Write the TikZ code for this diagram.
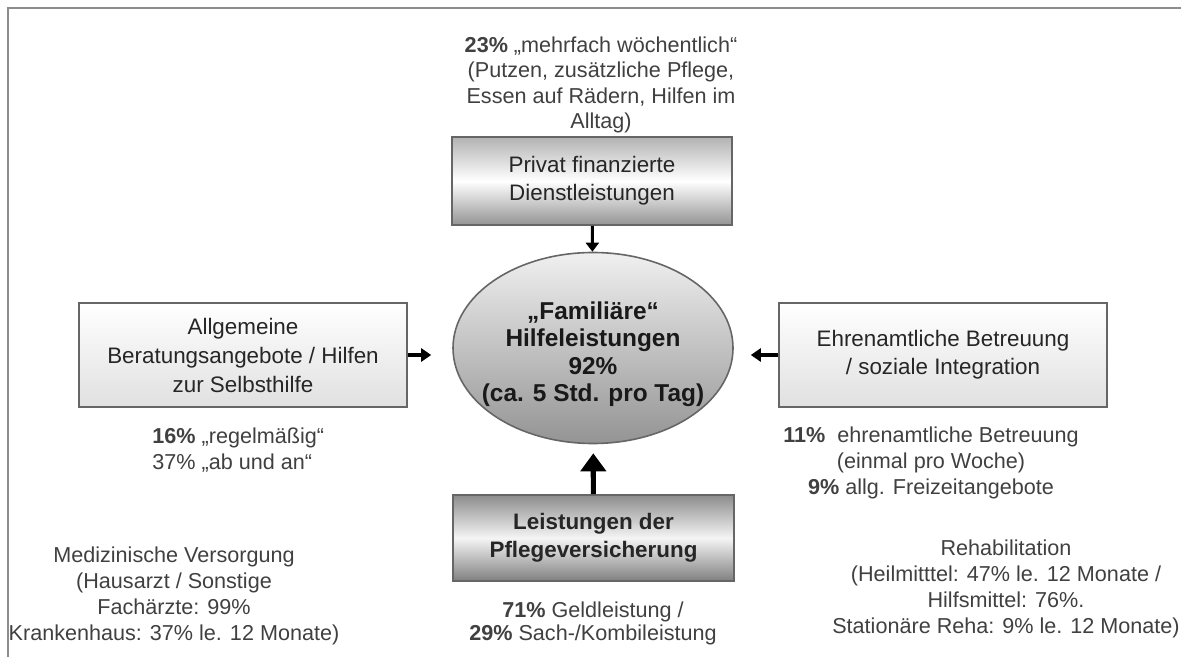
\documentclass[tikz,border=0pt]{standalone}
\usepackage{fontspec}
\setmainfont{Liberation Sans}
\usetikzlibrary{shapes.geometric,arrows.meta}

\begin{document}
\begin{tikzpicture}[x=0.5pt,y=-0.5pt]
\tikzstyle{every node}+=[inner sep=0pt]
\tikzstyle{box}=[draw=black!60, line width=0.8pt, align=center, text=black!85, font=\fontsize{11.2}{14}\selectfont]
\tikzstyle{note}=[align=center, text=black!75, font=\fontsize{10.8}{13}\selectfont]
\useasboundingbox (0,0) rectangle (1181,657);
\draw [black!45, line width=1.2pt] (8,657) -- (8,8) -- (1181,8);
% boxes
\node [box, top color=black!30, bottom color=black!42, middle color=white, minimum width=140pt, minimum height=44pt] (privat) at (592,181) {Privat finanzierte\\Dienstleistungen};
\node [ellipse, draw=black!60, line width=0.8pt, top color=black!6, bottom color=black!42, minimum width=140pt, minimum height=95.5pt] (familie) at (593,348) {};
\node [align=center, text=black!90, font=\bfseries\fontsize{12.2}{13.75}\selectfont] (familietext) at (593,354) {„Familiäre“\\Hilfeleistungen\\92\%\\(ca. 5 Std. pro Tag)};
\node [box, top color=white, bottom color=black!12, minimum width=164pt, minimum height=52pt, font=\fontsize{11.2}{14.5}\selectfont] (beratung) at (243,355) {Allgemeine\\Beratungsangebote / Hilfen\\zur Selbsthilfe};
\node [box, top color=white, bottom color=black!12, minimum width=164pt, minimum height=52pt] (ehrenamt) at (943,355) {Ehrenamtliche Betreuung\\/ soziale Integration};
\node [box, top color=black!45, bottom color=black!50, middle color=black!4, minimum width=140.5pt, minimum height=43pt, font=\bfseries\fontsize{11.2}{14}\selectfont] (pflege) at (593.5,538) {Leistungen der\\Pflegeversicherung};
% arrows
\draw [-{Triangle[length=4.5pt,width=6.5pt]}, line width=1.5pt] (privat) -- (familie);
\draw [-{Triangle[length=5pt,width=6.5pt]}, line width=1.8pt, shorten >=10.5pt] (beratung.east) -- (beratung.east -| familie.west);
\draw [-{Triangle[length=5pt,width=6.5pt]}, line width=1.8pt, shorten >=8.5pt] (ehrenamt.west) -- (ehrenamt.west -| familie.east);
\draw [-{Triangle[length=9pt,width=12.5pt]}, line width=2.6pt, shorten >=4.5pt] (pflege) -- (familie);
% notes
\node [note, font=\fontsize{10.8}{12.75}\selectfont] (mehrfach) at (601,85) {\textbf{23\%} „mehrfach wöchentlich“\\(Putzen, zusätzliche Pflege,\\Essen auf Rädern, Hilfen im\\Alltag)};
\node [note, align=left, anchor=west] (regel) at (152,450) {\textbf{16\%} „regelmäßig“\\37\% „ab und an“};
\node [note] (betreuung) at (931,463) {\textbf{11\%}\ \ ehrenamtliche Betreuung\\(einmal pro Woche)\\\textbf{9\%} allg. Freizeitangebote};
\node [note, font=\fontsize{10.8}{11.5}\selectfont] (geld) at (593,623) {\textbf{71\%} Geldleistung /\\\textbf{29\%} Sach-/Kombileistung};
\node [note] (medizin) at (174,596) {Medizinische Versorgung\\(Hausarzt / Sonstige\\Fachärzte: 99\%\\Krankenhaus: 37\% le. 12 Monate)};
\node [note] (reha) at (1006,589) {Rehabilitation\\(Heilmitttel: 47\% le. 12 Monate /\\Hilfsmittel: 76\%.\\Stationäre Reha: 9\% le. 12 Monate)};
\end{tikzpicture}
\end{document}
